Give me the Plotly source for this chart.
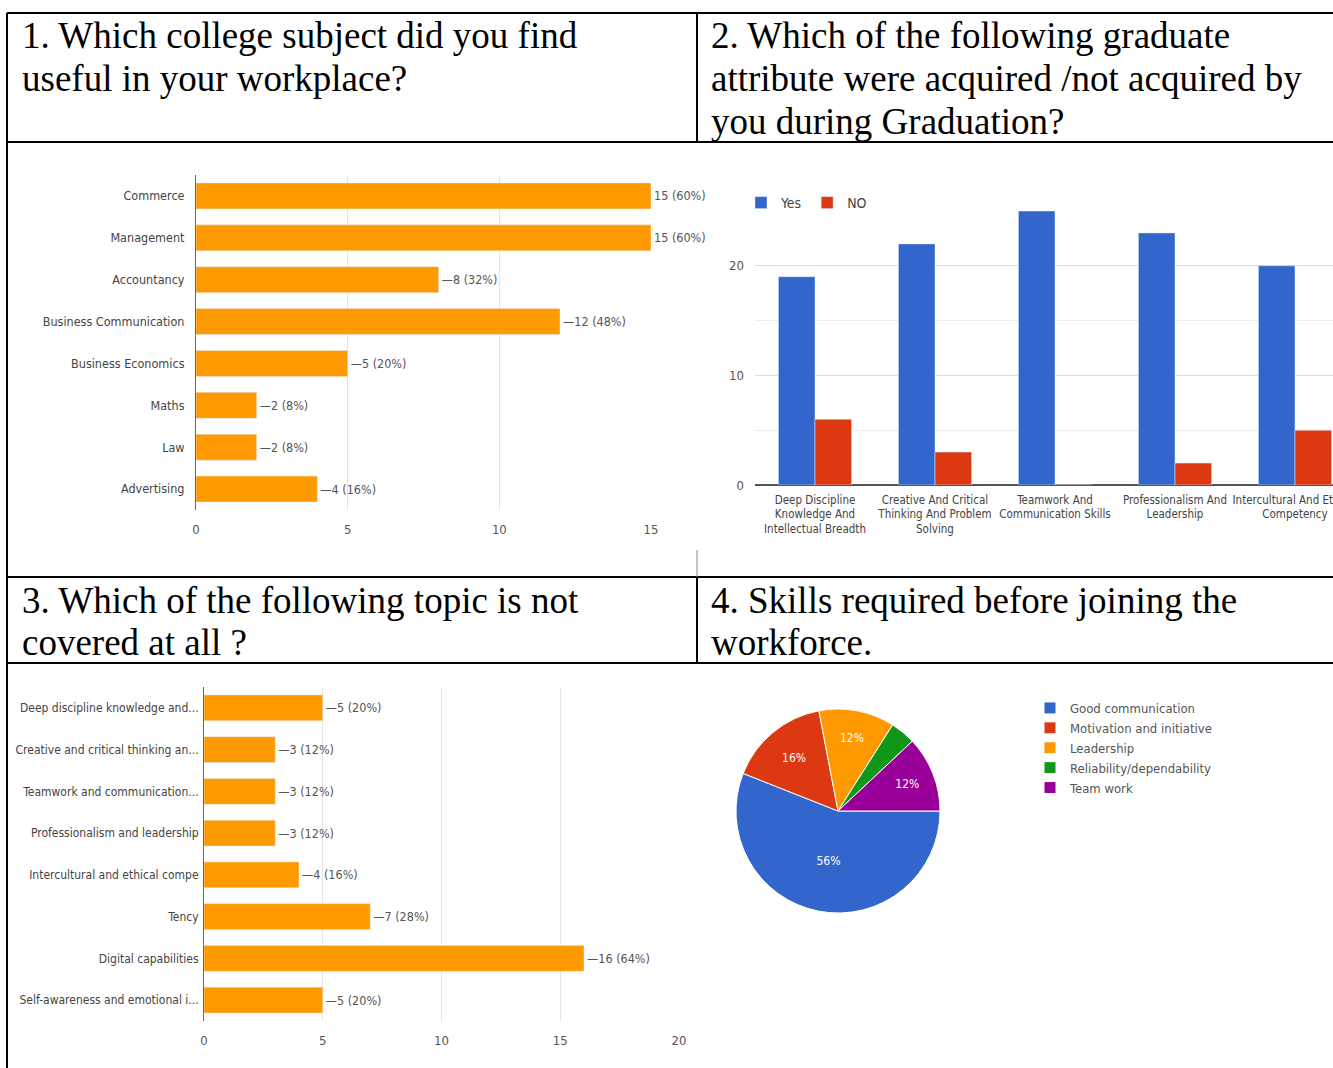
import plotly.graph_objects as go

W, H = 1333, 1068

def px(x):
    return x / W

def py(y):
    return 1 - y / H

# ---------------- data ----------------
q1_subjects = ["Commerce", "Management", "Accountancy", "Business Communication",
               "Business Economics", "Maths", "Law", "Advertising"]
q1_counts = [15, 15, 8, 12, 5, 2, 2, 4]
q1_pcts = [60, 60, 32, 48, 20, 8, 8, 16]

q2_attributes = ["Deep Discipline<br>Knowledge And<br>Intellectual Breadth",
                 "Creative And Critical<br>Thinking And Problem<br>Solving",
                 "Teamwork And<br>Communication Skills",
                 "Professionalism And<br>Leadership",
                 "Intercultural And Ethical<br>Competency"]
q2_yes = [19, 22, 25, 23, 20]
q2_no = [6, 3, 0, 2, 5]

q3_topics = ["Deep discipline knowledge and...", "Creative and critical thinking an...",
             "Teamwork and communication...", "Professionalism and leadership",
             "Intercultural and ethical compe", "Tency", "Digital capabilities",
             "Self-awareness and emotional i..."]
q3_counts = [5, 3, 3, 3, 4, 7, 16, 5]
q3_pcts = [20, 12, 12, 12, 16, 28, 64, 20]

q4_skills = ["Good communication", "Motivation and initiative", "Leadership",
             "Reliability/dependability", "Team work"]
q4_counts = [14, 4, 3, 1, 3]

titles_left_top = ["1. Which college subject did you find", "useful in your workplace?"]
titles_right_top = ["2. Which of the following graduate",
                    "attribute were acquired /not acquired by",
                    "you during Graduation?"]
titles_left_bot = ["3. Which of the following topic is not", "covered at all ?"]
titles_right_bot = ["4. Skills required before joining the", "workforce."]

# ---------------- styles ----------------
ORANGE = "#FF9900"
BLUE = "#3366CC"
RED = "#DC3912"
PIE_COLORS = ["#3366CC", "#DC3912", "#FF9900", "#109618", "#990099"]
NARROW = "DejaVu Sans Condensed, Roboto, sans-serif"
SERIF = "Liberation Serif, Times New Roman, serif"
GRID = "#e6e6e6"
TXT = "#555555"


def bar_label(v, p, vmax):
    return f"{v} ({p}%)" if v == vmax else f"\u2014{v} ({p}%)"


fig = go.Figure()

# Q1 horizontal bars
fig.add_trace(go.Bar(
    x=q1_counts, y=q1_subjects, orientation="h", marker_color=ORANGE,
    text=[bar_label(v, p, 15) for v, p in zip(q1_counts, q1_pcts)],
    textposition="outside", cliponaxis=False,
    textfont=dict(family=NARROW, size=12.5, color=TXT),
    xaxis="x", yaxis="y", showlegend=False, width=0.62,
))

# Q2 grouped bars
fig.add_trace(go.Bar(x=q2_attributes, y=q2_yes, name="Yes", marker_color=BLUE,
                     xaxis="x2", yaxis="y2", legend="legend"))
fig.add_trace(go.Bar(x=q2_attributes, y=q2_no, name="NO", marker_color=RED,
                     xaxis="x2", yaxis="y2", legend="legend"))

# Q3 horizontal bars
fig.add_trace(go.Bar(
    x=q3_counts, y=q3_topics, orientation="h", marker_color=ORANGE,
    text=[bar_label(v, p, None) for v, p in zip(q3_counts, q3_pcts)],
    textposition="outside", cliponaxis=False,
    textfont=dict(family=NARROW, size=12.5, color=TXT),
    xaxis="x3", yaxis="y3", showlegend=False, width=0.62,
))

# Q4 pie
total = sum(q4_counts)
pie_text = [f"{round(100 * c / total)}%" if c / total >= 0.05 else "" for c in q4_counts]
fig.add_trace(go.Pie(
    labels=q4_skills, values=q4_counts, sort=False, direction="clockwise",
    rotation=90, marker=dict(colors=PIE_COLORS, line=dict(color="white", width=1)),
    text=pie_text, textinfo="text", textposition="inside",
    insidetextfont=dict(family=NARROW, size=12, color="white"),
    domain=dict(x=[px(736), px(940)], y=[py(915), py(707)]),
    legend="legend2", hoverinfo="label+percent",
))

axis_common = dict(showline=False, ticks="", zeroline=False, automargin=False)

fig.update_layout(
    width=W, height=H, margin=dict(l=0, r=0, t=0, b=0, autoexpand=False),
    paper_bgcolor="white", plot_bgcolor="white",
    barmode="group", bargap=0.39, bargroupgap=0,
    font=dict(family=NARROW, color=TXT),
    xaxis=dict(domain=[px(196), px(651)], range=[0, 15], dtick=5,
               showgrid=True, gridcolor=GRID, anchor="y",
               tickfont=dict(size=13, color=TXT), ticklabelstandoff=10, **axis_common),
    yaxis=dict(domain=[py(510), py(175)], autorange="reversed", anchor="x",
               showline=True, linecolor="#666666", linewidth=1, automargin=False,
               tickfont=dict(size=12.5, color="#444444"), ticklabelstandoff=8,
               ticks=""),
    xaxis2=dict(domain=[px(755), 1.0], range=[-0.5, 4.5 - 22 / 120], anchor="y2",
                showgrid=False, tickfont=dict(size=11.5, color="#444444"), tickangle=0,
                ticklabelstandoff=6, **axis_common),
    yaxis2=dict(domain=[py(485), py(211)], range=[0, 25], dtick=10, anchor="x2",
                showgrid=True, gridcolor="#dddddd", automargin=False,
                minor=dict(dtick=5, showgrid=True, gridcolor="#eeeeee"),
                zeroline=True, zerolinecolor="#555555", zerolinewidth=2,
                tickfont=dict(size=13, color=TXT), ticks="", ticklabelstandoff=10),
    xaxis3=dict(domain=[px(204), px(679)], range=[0, 20], dtick=5,
                showgrid=True, gridcolor=GRID, anchor="y3",
                tickfont=dict(size=13, color=TXT), ticklabelstandoff=10, **axis_common),
    yaxis3=dict(domain=[py(1021), py(687)], autorange="reversed", anchor="x3",
                showline=True, linecolor="#666666", linewidth=1, automargin=False,
                tickfont=dict(size=12, color="#444444"), ticks="", ticklabelstandoff=2),
    legend=dict(orientation="h", x=px(741), y=py(187), xanchor="left", yanchor="top",
                font=dict(family=NARROW, size=14, color="#444444"),
                itemwidth=30, bgcolor="rgba(0,0,0,0)"),
    legend2=dict(orientation="v", x=px(1030), y=py(693), xanchor="left", yanchor="top",
                 font=dict(family=NARROW, size=13, color="#555555"),
                 tracegroupgap=0, itemwidth=30, bgcolor="rgba(0,0,0,0)"),
)

# --- title text (serif, table-cell headings) ---
def add_lines(lines, x, y0, step=42.5):
    for i, t in enumerate(lines):
        fig.add_annotation(text=t, x=px(x), y=py(y0 + i * step), xref="paper", yref="paper",
                           xanchor="left", yanchor="middle", showarrow=False,
                           font=dict(family=SERIF, size=37, color="black"))

add_lines(titles_left_top, 20, 36)
add_lines(titles_right_top, 709, 36)
add_lines(titles_left_bot, 20, 600)
add_lines(titles_right_bot, 709, 600)

# --- table borders ---
def hline(y, x0=7, x1=W, color="black", w=2):
    fig.add_shape(type="line", xref="paper", yref="paper", x0=px(x0), x1=px(x1),
                  y0=py(y), y1=py(y), line=dict(color=color, width=w))

def vline(x, y0, y1, color="black", w=2):
    fig.add_shape(type="line", xref="paper", yref="paper", x0=px(x), x1=px(x),
                  y0=py(y0), y1=py(y1), line=dict(color=color, width=w))

hline(13)
hline(142)
hline(577)
hline(663)
vline(7, 13, H)
vline(697, 13, 142)
vline(697, 577, 663)
vline(697, 550, 577, color="#888888", w=1)

fig.write_html("out.html", config={"displayModeBar": False},
               post_script="document.body.style.margin='0px';document.body.style.overflow='hidden';")
